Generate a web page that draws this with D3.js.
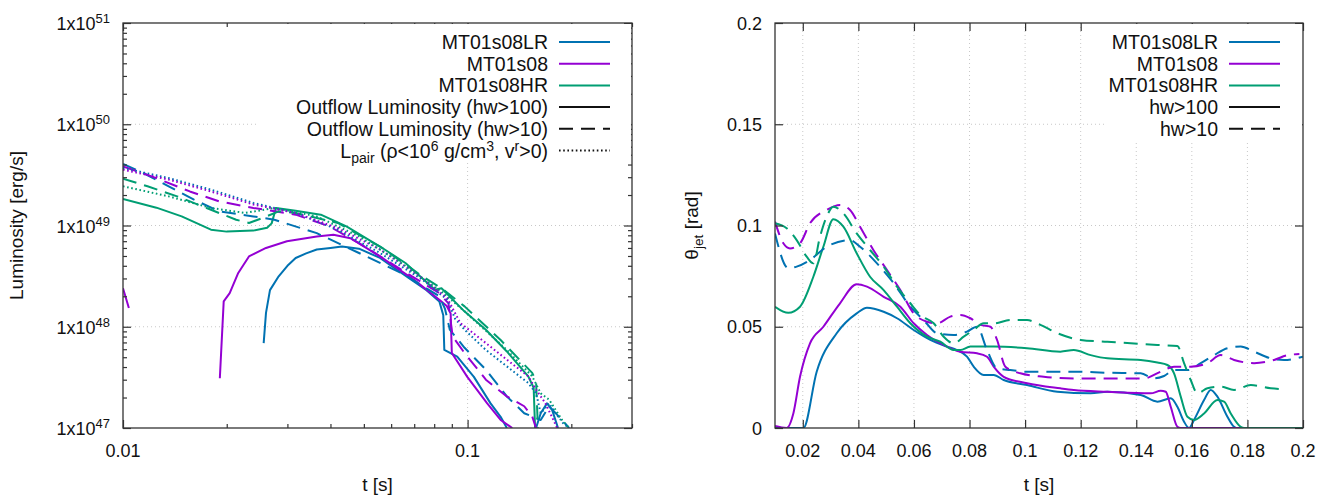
<!DOCTYPE html>
<html>
<head>
<meta charset="utf-8">
<script src="https://cdn.jsdelivr.net/npm/d3@7"></script>
<style>
  body { margin: 0; background: #fff; }
  text { font-family: "Liberation Sans", Arial, sans-serif; fill: #111; }
</style>
</head>
<body>
<script>
const w = 1330;
const h = 496;

// colours per run
const runNames = ['MT01s08LR', 'MT01s08', 'MT01s08HR'];
const runColors = ['#0072b2', '#9400d3', '#009e73'];

// ---- left panel: luminosity [erg/s] vs t [s]  (null = gap)
const lumLR100 = [[0.0256,6.9e47],[0.026,1.37e48],[0.0267,2.3e48],[0.0283,3.15e48],[0.030,4.0e48],[0.0317,4.78e48],[0.034,5.3e48],[0.0365,5.8e48],[0.040,6.0e48],[0.0432,6.2e48],[0.0484,5.9e48],[0.0557,4.78e48],[0.062,3.7e48],[0.0698,2.81e48],[0.076,2.3e48],[0.0828,1.78e48],[0.085,1.3e48],[0.0856,5.9e47],[0.0933,5.06e47],[0.1043,3.2e47],[0.1166,1.75e47],[0.1247,1.29e47],[0.130,1e47],null,[0.158,1e47],[0.163,1.4e47],[0.170,1.75e47],[0.176,1.5e47],[0.183,1e47]];
const lumSTD100 = [[0.0100,2.4e48],[0.0104,1.53e48],null,[0.0191,3.1e47],[0.0196,1.78e48],[0.0204,2.15e48],[0.0216,3.4e48],[0.0232,4.95e48],[0.026,6.0e48],[0.0299,7.0e48],[0.0365,7.8e48],[0.0408,8.1e48],[0.0457,7.5e48],[0.0557,4.95e48],[0.0698,2.92e48],[0.0828,1.85e48],[0.087,1.6e48],[0.0893,1.35e48],[0.090,5.5e47],[0.0998,3.2e47],[0.114,1.75e47],[0.1247,1.2e47],[0.1348,1e47]];
const lumHR100 = [[0.01,1.83e49],[0.0125,1.5e49],[0.0148,1.23e49],[0.018,9.1e48],[0.020,8.7e48],[0.0239,8.9e48],[0.0262,9.5e48],[0.027,1.05e49],[0.0278,1.49e49],[0.0317,1.4e49],[0.0375,1.28e49],[0.0445,9.8e48],[0.0557,6.2e48],[0.066,4.26e48],[0.0804,2.32e48],[0.084,2.4e48],[0.0979,1.42e48],[0.113,9.35e47],[0.13,5.7e47],[0.150,3.24e47],[0.1555,2.5e47],[0.157,1e47]];
const lumLR10 = [[0.01,4.05e49],[0.01145,3.3e49],[0.01357,2.44e49],[0.01607,1.8e49],[0.019,1.38e49],[0.0239,1.23e49],[0.0275,1.14e49],[0.0365,8.4e48],[0.0484,5.35e48],[0.0642,3.4e48],[0.0828,2.0e48],[0.086,1.5e48],[0.0888,9.35e47],[0.098,6.2e47],[0.113,3.77e47],[0.13,2.05e47],[0.146,1.4e47],[0.163,1.2e47],[0.1725,1.64e47],[0.188,1.2e47],[0.197,1e47]];
const lumSTD10 = [[0.01,3.84e49],[0.0121,3.06e49],[0.01563,2.17e49],[0.019,1.73e49],[0.0239,1.49e49],[0.0317,1.28e49],[0.0397,9.8e48],[0.0484,6.7e48],[0.0642,3.66e48],[0.0828,2.15e48],[0.088,1.7e48],[0.0905,8e47],[0.098,5.5e47],[0.113,3e47],[0.13,2.05e47],[0.146,1.64e47],[0.154,1.3e47],[0.158,1e47]];
const lumHR10 = [[0.01,2.9e49],[0.01178,2.44e49],[0.01436,1.94e49],[0.018,1.43e49],[0.0213,1.14e49],[0.0232,1.06e49],[0.0253,1.18e49],[0.0283,1.38e49],[0.0317,1.33e49],[0.042,1.06e49],[0.0557,6.2e48],[0.0739,3.15e48],[0.0851,2.32e48],[0.098,1.59e48],[0.1247,7.4e47],[0.154,3.5e47],[0.158,2.9e47],[0.160,1e47]];
const pairLR = [[0.01,3.7e49],[0.01357,2.94e49],[0.018,2.26e49],[0.0239,1.67e49],[0.0317,1.33e49],[0.042,9.1e48],[0.0557,5.35e48],[0.0739,2.92e48],[0.0873,1.85e48],[0.092,1.2e48],[0.098,9.35e47],[0.113,5.9e47],[0.13,4.06e47],[0.15,2.78e47],[0.158,2.2e47],[0.163,1.4e47],[0.1725,1.75e47],[0.18,1.4e47],[0.19,1.1e47],[0.197,1e47]];
const pairSTD = [[0.01,3.56e49],[0.01357,2.84e49],[0.018,2.17e49],[0.0239,1.61e49],[0.0317,1.33e49],[0.042,9.45e48],[0.0557,5.8e48],[0.0739,3.03e48],[0.0873,1.92e48],[0.0952,1.09e48],[0.113,6.9e47],[0.13,4.73e47],[0.15,3.24e47],[0.158,2.39e47],[0.168,1.77e47],[0.1774,1.2e47],[0.182,1e47]];
const pairHR = [[0.01,2.44e49],[0.01357,1.94e49],[0.018,1.49e49],[0.0226,1.33e49],[0.0275,1.49e49],[0.0365,1.23e49],[0.0484,7.8e48],[0.0642,4.26e48],[0.0851,2.15e48],[0.098,1.42e48],[0.13,5.9e47],[0.154,3.24e47],[0.163,2.2e47],[0.1725,1.9e47],[0.188,1.2e47],[0.197,1e47]];

// ---- right panel: theta_jet [rad] vs t [s]
const jetLR100 = [[0.01,0],[0.0202,0],[0.025,0.0278],[0.0322,0.0468],[0.0394,0.0566],[0.0431,0.0594],[0.0491,0.0574],[0.0539,0.0542],[0.0599,0.0484],[0.0659,0.0435],[0.0719,0.0402],[0.0755,0.0385],[0.0791,0.0352],[0.0815,0.0303],[0.0851,0.0262],[0.0887,0.0262],[0.0923,0.0237],[0.1007,0.0212],[0.1116,0.0179],[0.1236,0.0171],[0.1296,0.0179],[0.1416,0.0163],[0.1476,0.013],[0.1524,0.0147],[0.1548,0.0105],[0.1572,0.0031],[0.159,0],[0.1608,0.004],[0.1644,0.0138],[0.1668,0.0188],[0.1692,0.0155],[0.1728,0.0056],[0.1752,0.0006],[0.176,0],[0.2,0]];
const jetSTD100 = [[0.01,0.001],[0.0142,0],[0.0166,0.0072],[0.019,0.0253],[0.0226,0.0418],[0.0274,0.05],[0.0334,0.0616],[0.0394,0.071],[0.0431,0.0698],[0.0491,0.0648],[0.0551,0.0599],[0.0599,0.0517],[0.0647,0.0459],[0.0707,0.041],[0.0767,0.0377],[0.0827,0.0369],[0.0863,0.0352],[0.0887,0.0303],[0.0923,0.0253],[0.1007,0.0221],[0.1127,0.0196],[0.1175,0.0188],[0.1296,0.0179],[0.1452,0.0171],[0.1488,0.0184],[0.1506,0.0179],[0.1524,0.0105],[0.1548,0.0006],[0.156,0],[0.2,0]];
const jetHR100 = [[0.01,0.0599],[0.0148,0.0569],[0.019,0.0599],[0.0238,0.0747],[0.0274,0.0895],[0.031,0.1031],[0.0346,0.0994],[0.0394,0.0863],[0.0442,0.0747],[0.0491,0.0681],[0.0539,0.0599],[0.0587,0.0517],[0.0647,0.0451],[0.0695,0.0426],[0.0743,0.0385],[0.0767,0.0385],[0.0803,0.0402],[0.0887,0.0402],[0.1007,0.0394],[0.1127,0.0377],[0.1175,0.0385],[0.1236,0.036],[0.1296,0.0344],[0.1416,0.0336],[0.1476,0.0323],[0.1512,0.0311],[0.1536,0.027],[0.156,0.0155],[0.1584,0.0056],[0.1608,0.004],[0.1644,0.0072],[0.1692,0.0138],[0.1716,0.013],[0.174,0.0072],[0.1776,0.0006],[0.1788,0],[0.2,0]];
const jetLR10 = [[0.01,0.0961],[0.0148,0.0789],[0.0178,0.0797],[0.0226,0.083],[0.0286,0.0895],[0.037,0.0928],[0.0406,0.0895],[0.0467,0.0813],[0.0527,0.0715],[0.0587,0.0599],[0.0635,0.0533],[0.0683,0.0468],[0.0743,0.0459],[0.0791,0.0476],[0.0827,0.05],[0.0863,0.0385],[0.0899,0.0295],[0.0947,0.0286],[0.1007,0.0278],[0.1175,0.0278],[0.1296,0.0273],[0.1416,0.027],[0.1464,0.0245],[0.15,0.0257],[0.1536,0.0286],[0.1584,0.0286],[0.1632,0.032],[0.168,0.036],[0.1728,0.0394],[0.1776,0.0402],[0.1824,0.0377],[0.1884,0.0344],[0.1932,0.0336],[0.2,0.0352]];
const jetSTD10 = [[0.01,0.1019],[0.013,0.0912],[0.0154,0.0887],[0.019,0.0912],[0.0226,0.1011],[0.0286,0.1077],[0.0334,0.1101],[0.037,0.1077],[0.0406,0.0994],[0.0454,0.0879],[0.0503,0.078],[0.0551,0.0681],[0.0599,0.0566],[0.0647,0.0525],[0.0683,0.0517],[0.0731,0.055],[0.0767,0.0558],[0.0803,0.0542],[0.0839,0.0509],[0.0875,0.05],[0.0899,0.0435],[0.0929,0.0303],[0.0983,0.027],[0.1067,0.0253],[0.1175,0.0245],[0.1428,0.0245],[0.1488,0.0278],[0.1536,0.0303],[0.1596,0.0303],[0.1656,0.032],[0.1704,0.036],[0.1752,0.0336],[0.1824,0.032],[0.1896,0.0336],[0.1945,0.036],[0.1987,0.0365]];
const jetHR10 = [[0.01,0.1011],[0.0142,0.0986],[0.0178,0.0928],[0.0214,0.0846],[0.0238,0.0813],[0.0262,0.0945],[0.0286,0.1044],[0.031,0.1093],[0.0346,0.106],[0.0394,0.0961],[0.0442,0.0879],[0.0491,0.0797],[0.0539,0.0698],[0.0587,0.0616],[0.0623,0.0558],[0.0671,0.0517],[0.0707,0.0451],[0.0743,0.0418],[0.0779,0.0451],[0.0815,0.0484],[0.0851,0.0517],[0.0887,0.0517],[0.0947,0.0533],[0.1007,0.0533],[0.1055,0.0509],[0.1116,0.0468],[0.12,0.0435],[0.1296,0.0426],[0.1416,0.0415],[0.1476,0.041],[0.1548,0.0405],[0.1572,0.032],[0.1596,0.0237],[0.162,0.0171],[0.1656,0.0196],[0.1704,0.0204],[0.1752,0.0188],[0.1812,0.0212],[0.1884,0.0196],[0.1927,0.0191]];

// tick values
const lumXMajor = [0.01, 0.1];
const lumXMinor = [0.02,0.03,0.04,0.05,0.06,0.07,0.08,0.09,0.2,0.3];
const lumYExp = [47, 48, 49, 50, 51];
const jetXTicks = [0.02,0.04,0.06,0.08,0.1,0.12,0.14,0.16,0.18,0.2];
const jetYTicks = [0, 0.05, 0.1, 0.15, 0.2];

const dashes = { solid: null, dash: '14,8', dot: '1.6,2.6' };

const svg = d3.select('body').append('svg')
  .attr('width', w)
  .attr('height', h);

const xL = d3.scaleLog().domain([0.01, 0.3]).range([123, 632]);
const yL = d3.scaleLog().domain([1e47, 1e51]).range([428, 23]);
const xR = d3.scaleLinear().domain([0.01, 0.2]).range([775, 1303]);
const yR = d3.scaleLinear().domain([0, 0.2]).range([428, 23]);

const gridStyle = g => g.attr('stroke', '#c8c8c8').attr('stroke-width', 1).attr('stroke-dasharray', '1,3');

// rich text helper: parts of {t, sub, sup}
function richText(sel, parts, size) {
  let shift = 0;
  parts.forEach(p => {
    let target = p.sub ? 5 : p.sup ? -7 : 0;
    sel.append('tspan')
      .attr('dy', target - shift)
      .style('font-size', (p.sub || p.sup) ? (size * 0.72) + 'px' : size + 'px')
      .text(p.t);
    shift = target;
  });
}

function drawPanel(x, y, opts) {
  const [x0, x1] = x.range();
  const [y0, y1] = y.range();
  const g = svg.append('g');

  const clipId = 'clip' + opts.id;
  svg.append('clipPath').attr('id', clipId)
    .append('rect').attr('x', x0).attr('y', y1).attr('width', x1 - x0).attr('height', y0 - y1);

  // grid
  g.append('g').call(gridStyle).selectAll('line')
    .data(opts.yGrid).enter().append('line')
    .attr('x1', x0).attr('x2', x1)
    .attr('y1', d => y(d)).attr('y2', d => y(d));
  g.append('g').call(gridStyle).selectAll('line')
    .data(opts.xGrid).enter().append('line')
    .attr('x1', d => x(d)).attr('x2', d => x(d))
    .attr('y1', y0).attr('y2', y1);

  // curves
  const line = d3.line()
    .defined(d => d !== null)
    .x(d => x(d[0]))
    .y(d => y(Math.max(d[1], y.domain()[0])))
    .curve(opts.curve);
  g.append('g').attr('clip-path', `url(#${clipId})`)
    .selectAll('path')
    .data(opts.series).enter().append('path')
    .attr('d', d => line(d.values))
    .attr('fill', 'none')
    .attr('stroke', d => runColors[d.run])
    .attr('stroke-width', 2)
    .attr('stroke-linejoin', 'round')
    .attr('stroke-dasharray', d => dashes[d.style]);

  // ticks (inward, mirrored)
  const axes = [
    [d3.axisBottom(x), `translate(0,${y0})`, opts.xMajor, -8],
    [d3.axisBottom(x), `translate(0,${y0})`, opts.xMinor, -4],
    [d3.axisTop(x), `translate(0,${y1})`, opts.xMajor, -8],
    [d3.axisTop(x), `translate(0,${y1})`, opts.xMinor, -4],
    [d3.axisLeft(y), `translate(${x0},0)`, opts.yMajor, -8],
    [d3.axisLeft(y), `translate(${x0},0)`, opts.yMinor, -4],
    [d3.axisRight(y), `translate(${x1},0)`, opts.yMajor, -8],
    [d3.axisRight(y), `translate(${x1},0)`, opts.yMinor, -4]
  ];
  axes.forEach(([ax, tr, vals, size]) => {
    if (!vals.length) return;
    const a = g.append('g').attr('transform', tr)
      .call(ax.tickValues(vals).tickSize(size).tickSizeOuter(0).tickFormat(''));
    a.select('.domain').remove();
    a.selectAll('line').attr('stroke', '#333').attr('stroke-width', 1.2);
  });

  // frame
  g.append('rect')
    .attr('x', x0).attr('y', y1)
    .attr('width', x1 - x0).attr('height', y0 - y1)
    .attr('fill', 'none').attr('stroke', '#333').attr('stroke-width', 1.3);

  // x tick labels
  g.append('g').selectAll('text')
    .data(opts.xMajor).enter().append('text')
    .attr('x', d => x(d)).attr('y', 457)
    .attr('text-anchor', 'middle')
    .style('font-size', '18px')
    .text(opts.xFormat);

  // x title
  g.append('text')
    .attr('x', (x0 + x1) / 2).attr('y', 491)
    .attr('text-anchor', 'middle')
    .style('font-size', '19px')
    .text('t [s]');

  // legend box (opaque)
  const lg = svg.append('g');
  lg.append('rect')
    .attr('x', opts.legendBox[0]).attr('y', y1 + 1)
    .attr('width', x1 - 1 - opts.legendBox[0]).attr('height', opts.legendBox[1] - y1 - 1)
    .attr('fill', '#fff');
  opts.legend.forEach((item, i) => {
    const ly = 42 + i * 21.7;
    const t = lg.append('text')
      .attr('x', opts.legendText).attr('y', ly + 7)
      .attr('text-anchor', 'end')
      .style('font-size', '19.5px');
    richText(t, item.parts, 19.5);
    lg.append('line')
      .attr('x1', opts.legendText + 11).attr('x2', opts.legendText + 62)
      .attr('y1', ly).attr('y2', ly)
      .attr('stroke', item.color)
      .attr('stroke-width', 2)
      .attr('stroke-dasharray', dashes[item.style]);
  });
  return g;
}

const styleName = ['solid', 'dash', 'dot'];
const leftSeries = [
  [lumLR100, 0, 0], [lumSTD100, 1, 0], [lumHR100, 2, 0],
  [lumLR10, 0, 1], [lumSTD10, 1, 1], [lumHR10, 2, 1],
  [pairLR, 0, 2], [pairSTD, 1, 2], [pairHR, 2, 2]
].map(([values, run, s]) => ({ values, run, style: styleName[s] }));

const rightSeries = [
  [jetLR100, 0, 0], [jetSTD100, 1, 0], [jetHR100, 2, 0],
  [jetLR10, 0, 1], [jetSTD10, 1, 1], [jetHR10, 2, 1]
].map(([values, run, s]) => ({ values, run, style: styleName[s] }));

const runLegend = runNames.map((n, i) => ({ parts: [{ t: n }], color: runColors[i], style: 'solid' }));

const lumYMinor = [];
for (let e = 47; e < 51; e++) for (let k = 2; k <= 9; k++) lumYMinor.push(k * Math.pow(10, e));

drawPanel(xL, yL, {
  id: 'L',
  series: leftSeries,
  curve: d3.curveLinear,
  xMajor: lumXMajor, xMinor: lumXMinor,
  yMajor: lumYExp.map(e => Math.pow(10, e)), yMinor: lumYMinor,
  xGrid: [0.1], yGrid: [1e48, 1e49, 1e50],
  xFormat: d => d === 0.01 ? '0.01' : '0.1',
  legendBox: [257, 161],
  legendText: 548,
  legend: runLegend.concat([
    { parts: [{ t: 'Outflow Luminosity (hw>100)' }], color: '#111', style: 'solid' },
    { parts: [{ t: 'Outflow Luminosity (hw>10)' }], color: '#111', style: 'dash' },
    { parts: [{ t: 'L' }, { t: 'pair', sub: true }, { t: ' (ρ<10' }, { t: '6', sup: true }, { t: ' g/cm' }, { t: '3', sup: true }, { t: ', v' }, { t: 'r', sup: true }, { t: '>0)' }], color: '#111', style: 'dot' }
  ])
});

drawPanel(xR, yR, {
  id: 'R',
  series: rightSeries,
  curve: d3.curveMonotoneX,
  xMajor: jetXTicks, xMinor: [],
  yMajor: jetYTicks, yMinor: [],
  xGrid: jetXTicks.slice(0, -1), yGrid: [0.05, 0.1, 0.15],
  xFormat: d => String(+d.toFixed(2)),
  legendBox: [1105, 140],
  legendText: 1218,
  legend: runLegend.concat([
    { parts: [{ t: 'hw>100' }], color: '#111', style: 'solid' },
    { parts: [{ t: 'hw>10' }], color: '#111', style: 'dash' }
  ])
});

// y tick labels, left: 1x10^n
svg.append('g').selectAll('text')
  .data(lumYExp).enter().append('text')
  .attr('x', 110).attr('y', d => yL(Math.pow(10, d)) + 7)
  .attr('text-anchor', 'end')
  .style('font-size', '18px')
  .each(function (d) { richText(d3.select(this), [{ t: '1x10' }, { t: String(d), sup: true }], 18); });

// y tick labels, right
svg.append('g').selectAll('text')
  .data(jetYTicks).enter().append('text')
  .attr('x', 762).attr('y', d => yR(d) + 6.5)
  .attr('text-anchor', 'end')
  .style('font-size', '18px')
  .text(d => String(d));

// y titles
svg.append('text')
  .attr('transform', `translate(23,${yL.range()[1] + (yL.range()[0] - yL.range()[1]) / 2}) rotate(-90)`)
  .attr('text-anchor', 'middle')
  .style('font-size', '19px')
  .text('Luminosity [erg/s]');

const thetaTitle = svg.append('text')
  .attr('transform', `translate(698,${(yR.range()[0] + yR.range()[1]) / 2}) rotate(-90)`)
  .attr('text-anchor', 'middle')
  .style('font-size', '19px');
richText(thetaTitle, [{ t: 'θ' }, { t: 'jet', sub: true }, { t: ' [rad]' }], 19);
</script>
</body>
</html>
